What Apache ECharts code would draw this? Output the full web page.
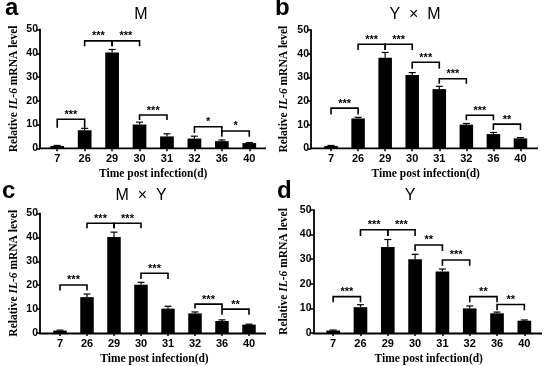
<!DOCTYPE html>
<html><head><meta charset="utf-8">
<script src="https://cdn.jsdelivr.net/npm/echarts@6/dist/echarts.min.js"></script>
<style>html,body{margin:0;padding:0;background:#fff}#c{width:550px;height:366px}</style>
</head><body><div id="c"></div>
<script>
const categories = ['7','26','29','30','31','32','36','40'];
const yTicks = [0, 10, 20, 30, 40, 50];
const titles = ['M', 'Y  \u00d7  M', 'M  \u00d7  Y', 'Y'];
const panelLetters = ['a', 'b', 'c', 'd'];
const xAxisName = 'Time post infection(d)';

const valuesA = [1.0, 7.6, 40.3, 10.0, 5.0, 4.1, 3.0, 2.2];
const errorsA = [0.2, 0.8, 1.3, 1.0, 1.1, 1.0, 0.5, 0.2];
const valuesB = [1.0, 12.6, 38.3, 31.0, 25.0, 10.0, 6.0, 4.2];
const errorsB = [0.2, 0.5, 2.2, 1.0, 1.2, 0.5, 0.7, 0.3];
const valuesC = [1.0, 15.0, 40.2, 20.2, 10.2, 8.2, 5.0, 3.5];
const errorsC = [0.2, 1.3, 2.0, 1.0, 1.0, 0.6, 0.5, 0.2];
const valuesD = [1.0, 10.5, 35.0, 30.0, 25.0, 10.0, 8.0, 5.0];
const errorsD = [0.2, 1.0, 3.0, 2.0, 1.0, 1.0, 0.5, 0.3];

// [fromIndex, toIndex, bracketTop, legBottom, stars]
const bracketsA = [[0,1,12.2,8.6,'***'],[1,2,45.2,43,'***'],[2,3,45.2,43,'***'],[3,4,14,11.9,'***'],[5,6,9.1,6.4,'*'],[6,7,7.3,4.9,'*']];
const bracketsB = [[0,1,17,14.3,'***'],[1,2,44,41.5,'***'],[2,3,44,41.5,'***'],[3,4,36.4,33.6,'***'],[4,5,29.4,27.3,'***'],[5,6,14,11.9,'***'],[6,7,10.2,7.7,'**']];
const bracketsC = [[0,1,20.1,17.8,'***'],[1,2,45.9,43.8,'***'],[2,3,45.9,43.8,'***'],[3,4,25,22.6,'***'],[5,6,12.1,10.3,'***'],[6,7,10,7.6,'**']];
const bracketsD = [[0,1,14.8,12.5,'***'],[1,2,42,39.4,'***'],[2,3,42,39.4,'***'],[3,4,35.8,33.3,'**'],[4,5,29.7,27.3,'***'],[5,6,14.8,12.5,'**'],[6,7,11.6,9.2,'**']];

const panels = [
  {values: valuesA, errors: errorsA, brackets: bracketsA, yAxisX: 40, bandStart: 43.5, bandEnd: 263, axisEnd: 266, top: 29.5, bottom: 148.3, titleX: 141, titleY: 15, letterX: 5, letterY: 20, nameGap: 20},
  {values: valuesB, errors: errorsB, brackets: bracketsB, yAxisX: 311, bandStart: 317.5, bandEnd: 534, axisEnd: 538, top: 30, bottom: 148.3, titleX: 415, titleY: 15, letterX: 275, letterY: 20, nameGap: 21},
  {values: valuesC, errors: errorsC, brackets: bracketsC, yAxisX: 40, bandStart: 46.5, bandEnd: 262.5, axisEnd: 266, top: 213.5, bottom: 333.5, titleX: 141, titleY: 196, letterX: 2, letterY: 203, nameGap: 20},
  {values: valuesD, errors: errorsD, brackets: bracketsD, yAxisX: 313.5, bandStart: 319.5, bandEnd: 538, axisEnd: 542, top: 210, bottom: 333.5, titleX: 410, titleY: 196, letterX: 277, letterY: 203, nameGap: 23}
];

const sans = 'Liberation Sans';
const serif = 'Liberation Serif';

const grid = [], xAxis = [], yAxis = [], series = [], graphic = [];
panels.forEach((p, i) => {
  grid.push({left: p.bandStart, width: p.bandEnd - p.bandStart, top: p.top, height: p.bottom - p.top, containLabel: false});
  xAxis.push({
    type: 'category', gridIndex: i, data: categories,
    axisLine: {show: false},
    axisTick: {show: true, alignWithLabel: true, length: 3, lineStyle: {color: '#000', width: 1.5}},
    axisLabel: {color: '#000', fontFamily: sans, fontWeight: 'bold', fontSize: 11, margin: 5},
    name: xAxisName, nameLocation: 'middle', nameGap: 20,
    nameTextStyle: {color: '#000', fontFamily: serif, fontWeight: 'bold', fontSize: 11.5}
  });
  yAxis.push({
    type: 'value', gridIndex: i, min: 0, max: 50, interval: 10,
    offset: p.bandStart - p.yAxisX,
    splitLine: {show: false},
    axisLine: {show: true, lineStyle: {color: '#000', width: 1.8}},
    axisTick: {show: true, length: 4, lineStyle: {color: '#000', width: 1.5}},
    axisLabel: {color: '#000', fontFamily: sans, fontWeight: 'bold', fontSize: 10.5, margin: 2},
    name: '{r|Relative }{i|IL-6}{r| mRNA level}', nameLocation: 'middle', nameGap: p.nameGap, nameRotate: 90,
    nameTextStyle: {
      color: '#000', fontFamily: serif, fontWeight: 'bold', fontSize: 11.5,
      rich: {
        r: {fontFamily: serif, fontWeight: 'bold', fontSize: 11.5, color: '#000'},
        i: {fontFamily: serif, fontWeight: 'bold', fontStyle: 'italic', fontSize: 11.5, color: '#000'}
      }
    }
  });
  series.push({
    type: 'bar', xAxisIndex: i, yAxisIndex: i, data: p.values, barWidth: '50%',
    itemStyle: {color: '#000'}, silent: true, z: 2
  });
  series.push({
    type: 'custom', xAxisIndex: i, yAxisIndex: i, z: 3, silent: true,
    data: p.values.map((v, k) => [k, v, v + p.errors[k]]),
    renderItem: (params, api) => {
      const a = api.coord([api.value(0), api.value(1)]);
      const b = api.coord([api.value(0), api.value(2)]);
      const style = {stroke: '#000', lineWidth: 1.2};
      return {type: 'group', children: [
        {type: 'line', shape: {x1: a[0], y1: a[1], x2: b[0], y2: b[1]}, style},
        {type: 'line', shape: {x1: b[0] - 3.5, y1: b[1], x2: b[0] + 3.5, y2: b[1]}, style}
      ]};
    }
  });
  series.push({
    type: 'custom', xAxisIndex: i, yAxisIndex: i, z: 4, silent: true,
    data: p.brackets.map(b => [b[0], b[1], b[2], b[3]]),
    renderItem: (params, api) => {
      const l = api.coord([api.value(0), api.value(2)]);
      const r = api.coord([api.value(1), api.value(2)]);
      const lb = api.coord([api.value(0), api.value(3)]);
      const rb = api.coord([api.value(1), api.value(3)]);
      const label = p.brackets[params.dataIndex][4];
      return {type: 'group', children: [
        {type: 'polyline', shape: {points: [[lb[0], lb[1]], [l[0], l[1]], [r[0], r[1]], [rb[0], rb[1]]]}, style: {fill: null, stroke: '#000', lineWidth: 1.6}},
        {type: 'text', x: (l[0] + r[0]) / 2, y: l[1] + 1, style: {text: label, fill: '#000', font: 'bold 11px "Liberation Sans"', textAlign: 'center', textVerticalAlign: 'bottom'}}
      ]};
    }
  });
  graphic.push({type: 'line', shape: {x1: p.yAxisX - 0.9, y1: p.bottom, x2: p.axisEnd, y2: p.bottom}, style: {stroke: '#000', lineWidth: 1.8}, z: 10});
  graphic.push({type: 'text', x: p.titleX, y: p.titleY, style: {text: titles[i], fill: '#000', font: '16px "Liberation Sans"', textAlign: 'center', textVerticalAlign: 'middle'}});
  graphic.push({type: 'text', x: p.letterX, y: p.letterY, style: {text: panelLetters[i], fill: '#000', font: 'bold 24px "Liberation Sans"', textAlign: 'left', textVerticalAlign: 'bottom'}});
});

const chart = echarts.init(document.getElementById('c'), null, {renderer: 'canvas'});
chart.setOption({animation: false, backgroundColor: '#fff', grid, xAxis, yAxis, series, graphic});
</script></body></html>
